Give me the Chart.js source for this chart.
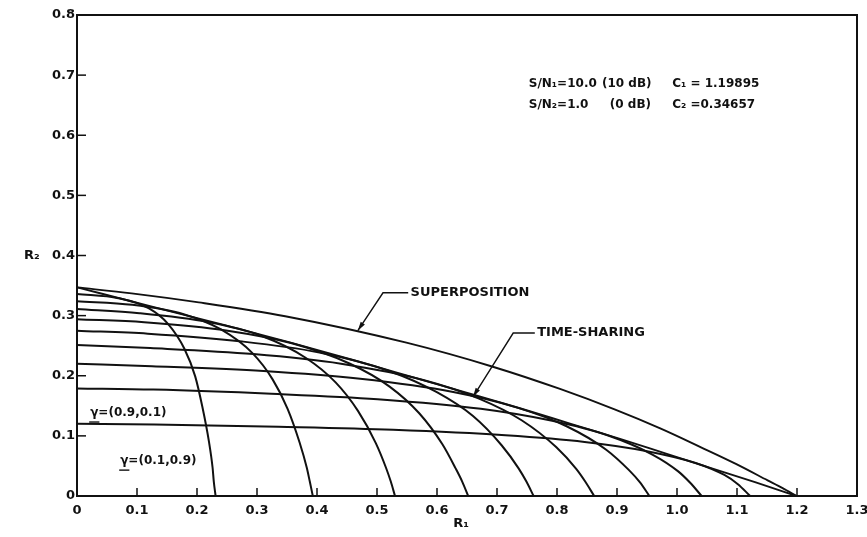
<!DOCTYPE html>
<html>
<head>
<meta charset="utf-8">
<script src="https://cdn.jsdelivr.net/npm/chart.js@4"></script>
<style>
  html, body { margin: 0; padding: 0; background: #fff; }
</style>
</head>
<body>
<canvas id="myChart" width="867" height="537"></canvas>
<script>
// time-sharing splits gamma = (g1, g2); one curve per split
const gammaNames = ['(0.1,0.9)', '(0.2,0.8)', '(0.3,0.7)', '(0.4,0.6)', '(0.5,0.5)',
                    '(0.6,0.4)', '(0.7,0.3)', '(0.8,0.2)', '(0.9,0.1)'];
const gammaR1 = [
  [0, 0.069, 0.120, 0.152, 0.179, 0.197, 0.209, 0.220, 0.226, 0.228, 0.231],
  [0, 0.092, 0.179, 0.240, 0.292, 0.326, 0.351, 0.371, 0.383, 0.388, 0.393],
  [0, 0.104, 0.220, 0.306, 0.381, 0.431, 0.468, 0.498, 0.515, 0.523, 0.530],
  [0, 0.112, 0.251, 0.358, 0.455, 0.521, 0.570, 0.609, 0.631, 0.642, 0.652],
  [0, 0.118, 0.275, 0.402, 0.520, 0.599, 0.660, 0.708, 0.736, 0.749, 0.761],
  [0, 0.122, 0.294, 0.440, 0.577, 0.670, 0.741, 0.799, 0.832, 0.847, 0.862],
  [0, 0.125, 0.311, 0.472, 0.627, 0.734, 0.816, 0.882, 0.920, 0.938, 0.954],
  [0, 0.127, 0.324, 0.501, 0.673, 0.792, 0.884, 0.959, 1.002, 1.022, 1.041],
  [0, 0.129, 0.336, 0.527, 0.714, 0.846, 0.948, 1.031, 1.079, 1.101, 1.122]
];
const gammaR2 = [
  [0.336, 0.329, 0.312, 0.286, 0.245, 0.199, 0.148, 0.090, 0.047, 0.024, 0],
  [0.324, 0.318, 0.302, 0.277, 0.238, 0.194, 0.145, 0.089, 0.047, 0.024, 0],
  [0.311, 0.304, 0.289, 0.267, 0.230, 0.189, 0.142, 0.088, 0.047, 0.024, 0],
  [0.294, 0.289, 0.275, 0.254, 0.220, 0.182, 0.138, 0.086, 0.046, 0.024, 0],
  [0.275, 0.270, 0.257, 0.239, 0.208, 0.173, 0.133, 0.084, 0.046, 0.024, 0],
  [0.251, 0.246, 0.236, 0.220, 0.193, 0.162, 0.126, 0.081, 0.045, 0.024, 0],
  [0.220, 0.216, 0.208, 0.195, 0.173, 0.147, 0.116, 0.077, 0.043, 0.023, 0],
  [0.179, 0.177, 0.170, 0.161, 0.145, 0.125, 0.101, 0.069, 0.041, 0.022, 0],
  [0.120, 0.119, 0.115, 0.110, 0.101, 0.090, 0.075, 0.055, 0.035, 0.020, 0]
];

const superR1 = [0, 0.091, 0.203, 0.347, 0.549, 0.693, 0.805, 0.896, 0.973, 1.040, 1.099, 1.151, 1.176, 1.199];
const superR2 = [0.347, 0.337, 0.322, 0.299, 0.255, 0.215, 0.178, 0.144, 0.112, 0.081, 0.053, 0.026, 0.013, 0];

const shareR1 = [0, 0.125, 0.243, 0.353, 0.457, 0.555, 0.649, 0.738, 0.823, 0.905, 0.983, 1.058, 1.130, 1.199];
const shareR2 = [0.347, 0.315, 0.285, 0.256, 0.227, 0.199, 0.172, 0.146, 0.120, 0.095, 0.070, 0.046, 0.023, 0];

const xTickLabels = ['0', '0.1', '0.2', '0.3', '0.4', '0.5', '0.6', '0.7', '0.8', '0.9', '1.0', '1.1', '1.2', '1.3'];
const yTickLabels = ['0', '0.1', '0.2', '0.3', '0.4', '0.5', '0.6', '0.7', '0.8'];

const ink = '#111';
const toPoints = (xs, ys) => xs.map((x, i) => ({ x: x, y: ys[i] }));

const curve = (label, xs, ys, width) => ({
  label: label,
  data: toPoints(xs, ys),
  showLine: true,
  borderColor: ink,
  borderWidth: width,
  pointRadius: 0,
  cubicInterpolationMode: 'monotone',
  fill: false
});

const datasets = gammaNames.map((name, k) => curve('γ=' + name, gammaR1[k], gammaR2[k], 2));
datasets.push(curve('SUPERPOSITION', superR1, superR2, 1.9));
datasets.push(curve('TIME-SHARING', shareR1, shareR2, 1.9));

// frame, inward ticks, labels and leaders
const decorations = {
  id: 'decorations',
  afterDraw(chart) {
    const ctx = chart.ctx, a = chart.chartArea;
    const sx = chart.scales.x, sy = chart.scales.y;
    const X = v => sx.getPixelForValue(v), Y = v => sy.getPixelForValue(v);
    ctx.save();
    ctx.strokeStyle = ink;
    ctx.fillStyle = ink;
    ctx.lineWidth = 2;
    ctx.beginPath();
    ctx.moveTo(a.left, a.top);
    ctx.lineTo(a.right, a.top);
    ctx.lineTo(a.right, a.bottom);
    ctx.stroke();

    ctx.lineWidth = 1.5;
    sx.ticks.forEach(t => {
      if (t.value < 0.05 || t.value > 1.25) return;
      const x = X(t.value);
      ctx.beginPath(); ctx.moveTo(x, a.bottom); ctx.lineTo(x, a.bottom - 8); ctx.stroke();
    });
    sy.ticks.forEach(t => {
      if (t.value < 0.05 || t.value > 0.75) return;
      const y = Y(t.value);
      ctx.beginPath(); ctx.moveTo(a.left, y); ctx.lineTo(a.left + 9, y); ctx.stroke();
    });

    // leaders with arrowheads
    const leader = (pts) => {
      ctx.lineWidth = 1.4;
      ctx.beginPath();
      pts.forEach((p, i) => i ? ctx.lineTo(X(p[0]), Y(p[1])) : ctx.moveTo(X(p[0]), Y(p[1])));
      ctx.stroke();
      const n = pts.length;
      const tx = X(pts[n - 1][0]), ty = Y(pts[n - 1][1]);
      const fx = X(pts[n - 2][0]), fy = Y(pts[n - 2][1]);
      const len = Math.hypot(tx - fx, ty - fy), ux = (tx - fx) / len, uy = (ty - fy) / len;
      const bx = tx - ux * 9, by = ty - uy * 9;
      ctx.beginPath();
      ctx.moveTo(tx, ty);
      ctx.lineTo(bx - uy * 2.5, by + ux * 2.5);
      ctx.lineTo(bx + uy * 2.5, by - ux * 2.5);
      ctx.closePath();
      ctx.fill();
    };
    leader([[0.552, 0.338], [0.510, 0.338], [0.468, 0.275]]);
    leader([[0.763, 0.271], [0.727, 0.271], [0.660, 0.165]]);

    ctx.font = 'bold 13px "DejaVu Sans"';
    ctx.textBaseline = 'middle';
    ctx.textAlign = 'left';
    ctx.fillText('SUPERPOSITION', X(0.556), Y(0.338));
    ctx.fillText('TIME-SHARING', X(0.767), Y(0.271));

    ctx.font = 'bold 12px "DejaVu Sans"';
    ctx.fillText('S/N₁=10.0', X(0.753), Y(0.686));
    ctx.fillText('(10 dB)', X(0.875), Y(0.686));
    ctx.fillText('C₁ = 1.19895', X(0.992), Y(0.686));
    ctx.fillText('S/N₂=1.0', X(0.753), Y(0.650));
    ctx.fillText('(0 dB)', X(0.888), Y(0.650));
    ctx.fillText('C₂ =0.34657', X(0.992), Y(0.650));

    // gamma labels, underlined symbol
    const gammaLabel = (name, x, y) => {
      const px = X(x), py = Y(y);
      ctx.fillText('γ=' + name, px, py);
      const w = ctx.measureText('γ').width;
      ctx.lineWidth = 1.4;
      ctx.beginPath(); ctx.moveTo(px - 1, py + 9); ctx.lineTo(px + w + 1, py + 9); ctx.stroke();
    };
    gammaLabel(gammaNames[8], 0.022, 0.138);
    gammaLabel(gammaNames[0], 0.072, 0.058);

    ctx.font = 'bold 13px "DejaVu Sans"';
    ctx.fillText('R₂', 24, Y(0.4));
    ctx.textAlign = 'center';
    ctx.fillText('R₁', X(0.64), 524);
    ctx.restore();
  }
};

const tickFont = { family: 'DejaVu Sans', size: 13, weight: 'bold' };

const config = {
  type: 'scatter',
  data: { datasets: datasets },
  options: {
    responsive: false,
    animation: false,
    layout: { padding: { left: 0, top: 15, right: 10, bottom: 0 } },
    plugins: { legend: { display: false }, tooltip: { enabled: false } },
    scales: {
      x: {
        type: 'linear', min: 0, max: 1.3,
        grid: { display: false, drawTicks: false },
        border: { display: true, color: ink, width: 2 },
        ticks: {
          stepSize: 0.1, autoSkip: false, maxRotation: 0, padding: 7, color: ink,
          font: tickFont,
          callback: v => xTickLabels[Math.round(v * 10)]
        },
        afterFit: s => { s.height = 41; s.paddingLeft = 0; s.paddingRight = 0; }
      },
      y: {
        type: 'linear', min: 0, max: 0.8,
        grid: { display: false, drawTicks: false },
        border: { display: true, color: ink, width: 2 },
        ticks: {
          stepSize: 0.1, autoSkip: false, padding: 2, color: ink,
          font: tickFont,
          callback: v => yTickLabels[Math.round(v * 10)]
        },
        afterFit: s => { s.width = 77; s.paddingTop = 0; s.paddingBottom = 0; }
      }
    }
  },
  plugins: [decorations]
};

const myChart = new Chart(document.getElementById('myChart'), config);
</script>
</body>
</html>
